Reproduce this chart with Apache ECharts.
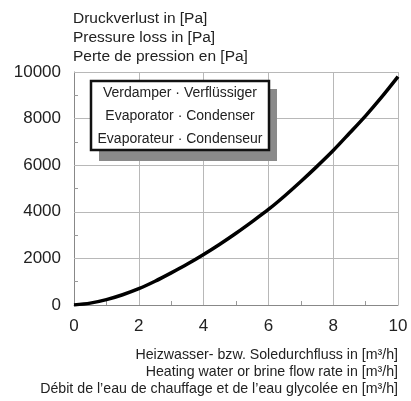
<!DOCTYPE html>
<html>
<head>
<meta charset="utf-8">
<script src="https://cdn.jsdelivr.net/npm/echarts@6/dist/echarts.min.js"></script>
<style>
  html, body { margin: 0; padding: 0; background: #fff; }
  #chart { width: 411px; height: 401px; }
</style>
</head>
<body>
<div id="chart"></div>
<script>
// flow rate in m3/h and pressure loss in Pa
const flow = [0, 0.5, 1, 1.5, 2, 2.5, 3, 3.5, 4, 4.5, 5, 5.5, 6, 6.5, 7, 7.5, 8, 8.5, 9, 9.5, 10]
const loss = [0, 80, 230, 440, 700, 1020, 1380, 1760, 2170, 2610, 3080, 3580, 4100, 4680, 5300, 5950, 6630, 7370, 8120, 8930, 9800]
const xTicks = [2, 4, 6, 8, 10]
const yTicks = [0, 2000, 4000, 6000, 8000, 10000]
const yTitle = ['Druckverlust in [Pa]', 'Pressure loss in [Pa]', 'Perte de pression en [Pa]']
const xTitle = [
  'Heizwasser- bzw. Soledurchfluss in [m³/h]',
  'Heating water or brine flow rate in [m³/h]',
  'Débit de l\u2019eau de chauffage et de l\u2019eau glycolée en [m³/h]',
]
const legendLines = ['Verdamper · Verflüssiger', 'Evaporator · Condenser', 'Evaporateur · Condenseur']

const font = '"Liberation Sans", Arial, sans-serif'
const chart = echarts.init(document.getElementById('chart'), null, { renderer: 'canvas' })

const graphics = []
// legend box: shadow, frame, text
graphics.push({ type: 'rect', shape: { x: 99, y: 89, width: 178, height: 72 }, style: { fill: '#8a8a8a' }, z: 10 })
graphics.push({ type: 'rect', shape: { x: 91, y: 81, width: 178, height: 69 }, style: { fill: '#fff', stroke: '#111', lineWidth: 2.5 }, z: 11 })
legendLines.forEach((t, i) => {
  graphics.push({
    type: 'text', x: 180, y: 93 + i * 23, z: 12,
    style: { text: t, fill: '#222', font: '14px ' + font, textAlign: 'center', textVerticalAlign: 'middle' },
  })
})
yTitle.forEach((t, i) => {
  graphics.push({
    type: 'text', x: 73, y: 19 + i * 19,
    style: { text: t, fill: '#222', font: '15.5px ' + font, textVerticalAlign: 'middle' },
  })
})
xTitle.forEach((t, i) => {
  graphics.push({
    type: 'text', x: 398, y: 355 + i * 17,
    style: { text: t, fill: '#222', font: '14.2px ' + font, textAlign: 'right', textVerticalAlign: 'middle' },
  })
})

// grid lines through the library's scales (splitLine did not show up)
const gridMarks = []
yTicks.slice(1).forEach((v) => gridMarks.push({ yAxis: v }))
xTicks.forEach((v) => gridMarks.push({ xAxis: v }))

chart.setOption({
  animation: false,
  grid: { left: 74, right: 13, top: 72, bottom: 96 },
  xAxis: {
    type: 'value',
    min: 0,
    max: 10,
    interval: 2,
    axisLine: { onZero: false, lineStyle: { color: '#888', width: 1 } },
    axisTick: { show: false, inside: true },
    minorTick: { show: true, splitNumber: 2, length: 4, lineStyle: { color: '#999' } },
    axisLabel: { color: '#222', fontSize: 17, fontFamily: font, margin: 13 },
    splitLine: { show: false },
  },
  yAxis: {
    type: 'value',
    min: 0,
    max: 10000,
    interval: 2000,
    axisLine: { show: true, onZero: false, lineStyle: { color: '#888', width: 1 } },
    axisTick: { show: false, inside: true },
    minorTick: { show: true, splitNumber: 2, length: 4, lineStyle: { color: '#999' } },
    axisLabel: {
      color: '#222', fontSize: 17, fontFamily: font, margin: 13,
      formatter: (v) => (yTicks.includes(v) ? String(v) : ''),
    },
    splitLine: { show: false },
  },
  series: [
    {
      type: 'line',
      data: flow.map((x, i) => [x, loss[i]]),
      smooth: 0.3,
      showSymbol: false,
      lineStyle: { color: '#000', width: 3.5 },
      z: 5,
      markLine: {
        silent: true,
        symbol: 'none',
        label: { show: false },
        emphasis: { disabled: true },
        lineStyle: { color: '#b8b8b8', width: 1, type: 'solid' },
        data: gridMarks,
        z: 1,
      },
    },
  ],
  graphic: graphics,
})
</script>
</body>
</html>
